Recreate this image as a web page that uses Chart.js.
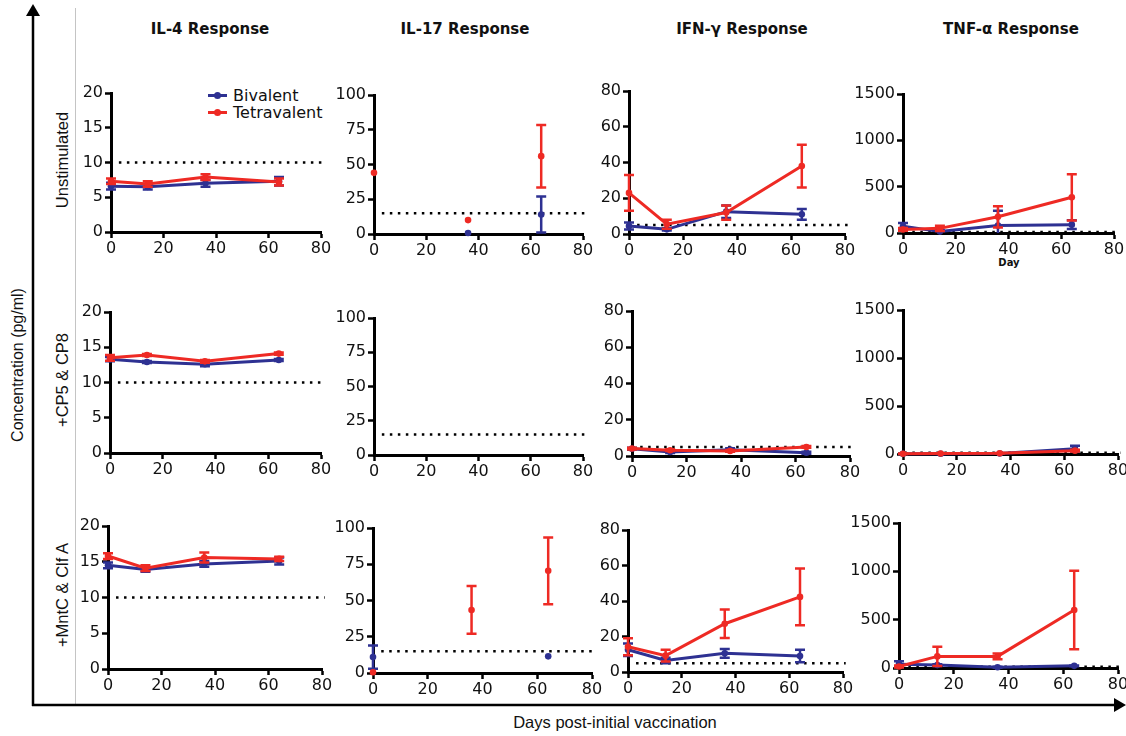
<!DOCTYPE html>
<html><head><meta charset="utf-8">
<script src="https://cdn.jsdelivr.net/npm/chart.js@4.4.1/dist/chart.umd.min.js"></script>
<style>
html,body{margin:0;padding:0;background:#fff;}
#fig{position:relative;width:1126px;height:736px;overflow:hidden;font-family:"Liberation Sans",Arial,sans-serif;color:#111;}
canvas.panel{position:absolute;}
.title{position:absolute;font-family:"DejaVu Sans",sans-serif;font-weight:bold;font-size:15px;transform:translate(-50%,-50%);white-space:nowrap;}
.rowlab{position:absolute;font-size:16.5px;transform:translate(-50%,-50%) rotate(-90deg);white-space:nowrap;}
.ylab{position:absolute;font-size:16px;transform:translate(-50%,-50%) rotate(-90deg);white-space:nowrap;}
.xlab{position:absolute;font-size:16.5px;transform:translate(-50%,-50%);white-space:nowrap;}
.day{position:absolute;font-family:"DejaVu Sans",sans-serif;font-weight:bold;font-size:10px;transform:translate(-50%,-50%);}
.leg{position:absolute;font-family:"DejaVu Sans",sans-serif;font-size:16px;white-space:nowrap;display:flex;align-items:center;}
.leg .sw{position:relative;width:19px;height:3px;margin-right:6px;}
.leg .sw i{position:absolute;left:6px;top:-2px;width:7px;height:7px;border-radius:50%;}
</style></head>
<body>
<div id="fig">
<svg width="1126" height="736" style="position:absolute;left:0;top:0">
 <line x1="75.5" y1="8" x2="75.5" y2="705" stroke="#c4c4c4" stroke-width="1"/>
 <line x1="33" y1="14" x2="33" y2="706" stroke="#000" stroke-width="2.5"/>
 <polygon points="33,4 26,16 40,16" fill="#000"/>
 <line x1="32" y1="705" x2="1116" y2="705" stroke="#000" stroke-width="2.5"/>
 <polygon points="1126,705 1114,698 1114,712" fill="#000"/>
</svg>
</div>
<script>
// ---------- data ----------
const days = [0, 14, 36, 64];
const xTicks = [0, 20, 40, 60, 80];
const cytokines = ['IL-4 Response', 'IL-17 Response', 'IFN-γ Response', 'TNF-α Response'];
const stimuli = ['Unstimulated', '+CP5 & CP8', '+MntC & Clf A'];
const seriesNames = ['Bivalent', 'Tetravalent'];
const yMax = [20, 100, 80, 1500];
const yStep = [5, 25, 20, 500];
const thresholds = [10, 15, 5, 12];

// Unstimulated
const il4UnstimBiv = [6.6, 6.5, 7.0, 7.3];
const il4UnstimBivErr = [0.5, 0.4, 0.5, 0.6];
const il4UnstimTet = [7.3, 6.9, 7.9, 7.2];
const il4UnstimTetErr = [0.4, 0.4, 0.4, 0.5];
const il17UnstimBiv = [null, null, 0.7, 14];
const il17UnstimBivErr = [null, null, 0, 13];
const il17UnstimTet = [44, null, 10, 56];
const il17UnstimTetErr = [0, null, 0, 22.5];
const ifnUnstimBiv = [4.5, 2.6, 12.5, 11];
const ifnUnstimBivErr = [2, 0.6, 3.5, 3];
const ifnUnstimTet = [23, 5.5, 12, 38];
const ifnUnstimTetErr = [10, 2.5, 4, 12];
const tnfUnstimBiv = [72, 15, 80, 90];
const tnfUnstimBivErr = [36, 15, 160, 47];
const tnfUnstimTet = [38, 50, 175, 385];
const tnfUnstimTetErr = [15, 28, 115, 250];

// +CP5 & CP8
const il4CpBiv = [13.3, 12.9, 12.6, 13.2];
const il4CpBivErr = [0.3, 0.15, 0.3, 0.15];
const il4CpTet = [13.5, 13.9, 13.0, 14.1];
const il4CpTetErr = [0.4, 0.15, 0.2, 0.15];
const il17CpBiv = [null, null, null, null];
const il17CpBivErr = [null, null, null, null];
const il17CpTet = [null, null, null, null];
const il17CpTetErr = [null, null, null, null];
const ifnCpBiv = [4.0, 2.2, 3.5, 1.8];
const ifnCpBivErr = [0.5, 0.5, 0.8, 0.5];
const ifnCpTet = [4.1, 3.2, 2.8, 5.0];
const ifnCpTetErr = [0.5, 0.5, 0.5, 0.5];
const tnfCpBiv = [3, 3, 5, 55];
const tnfCpBivErr = [2, 2, 3, 30];
const tnfCpTet = [3, 5, 8, 35];
const tnfCpTetErr = [2, 2, 3, 10];

// +MntC & Clf A
const il4MntBiv = [14.5, 13.9, 14.7, 15.1];
const il4MntBivErr = [0.4, 0.3, 0.4, 0.5];
const il4MntTet = [15.8, 14.1, 15.6, 15.4];
const il4MntTetErr = [0.4, 0.4, 0.7, 0.3];
const il17MntBiv = [11, null, null, 11.5];
const il17MntBivErr = [8, null, null, 0];
const il17MntTet = [0.5, null, 43.5, 70.5];
const il17MntTetErr = [0, null, 16.5, 23];
const ifnMntBiv = [12.5, 6.5, 10.5, 9];
const ifnMntBivErr = [3.5, 1.5, 2.5, 3.5];
const ifnMntTet = [14.2, 9.2, 27.2, 42.3];
const ifnMntTetErr = [4.8, 3.3, 8, 16];
const tnfMntBiv = [40, 30, 8, 22];
const tnfMntBivErr = [30, 10, 5, 5];
const tnfMntTet = [15, 120, 120, 600];
const tnfMntTetErr = [10, 100, 30, 405];

const panelSeries = [
  [[il4UnstimBiv, il4UnstimBivErr, il4UnstimTet, il4UnstimTetErr],
   [il17UnstimBiv, il17UnstimBivErr, il17UnstimTet, il17UnstimTetErr],
   [ifnUnstimBiv, ifnUnstimBivErr, ifnUnstimTet, ifnUnstimTetErr],
   [tnfUnstimBiv, tnfUnstimBivErr, tnfUnstimTet, tnfUnstimTetErr]],
  [[il4CpBiv, il4CpBivErr, il4CpTet, il4CpTetErr],
   [il17CpBiv, il17CpBivErr, il17CpTet, il17CpTetErr],
   [ifnCpBiv, ifnCpBivErr, ifnCpTet, ifnCpTetErr],
   [tnfCpBiv, tnfCpBivErr, tnfCpTet, tnfCpTetErr]],
  [[il4MntBiv, il4MntBivErr, il4MntTet, il4MntTetErr],
   [il17MntBiv, il17MntBivErr, il17MntTet, il17MntTetErr],
   [ifnMntBiv, ifnMntBivErr, ifnMntTet, ifnMntTetErr],
   [tnfMntBiv, tnfMntBivErr, tnfMntTet, tnfMntTetErr]]
];

// ---------- layout & style ----------
const BLUE = '#2E3192', RED = '#EE2A24';
const YW = 56, XH = 26, PT = 14, PR = 16;
// [plotLeft, plotWidth, plotTop, plotHeight]
const boxes = [
  [[111, 210, 93, 139], [374, 209, 95, 139], [629, 216, 91, 143], [903, 211, 94, 139]],
  [[110, 211, 312, 141], [374, 209, 318, 137], [632, 218, 311, 145], [903, 215, 310, 144]],
  [[108, 214, 526, 143], [373, 219, 528, 145], [628, 215, 530, 142], [899, 219, 523, 145]]
];
const titleX = [210, 465, 742, 1011];
const fig = document.getElementById('fig');

function addDiv(cls, text, x, y) {
  const d = document.createElement('div');
  d.className = cls; d.textContent = text;
  d.style.left = x + 'px'; d.style.top = y + 'px';
  fig.appendChild(d); return d;
}
cytokines.forEach((t, c) => addDiv('title', t, titleX[c], 29));
stimuli.forEach((s, r) => {
  const b = boxes[r][0];
  addDiv('rowlab', s, 62, b[2] + b[3] / 2 - 3);
});
addDiv('ylab', 'Concentration (pg/ml)', 18, 365);
addDiv('xlab', 'Days post-initial vaccination', 615, 722);
addDiv('day', 'Day', 1009, 262);

// legend
[BLUE, RED].forEach((col, i) => {
  const d = document.createElement('div');
  d.className = 'leg';
  d.style.left = '208px'; d.style.top = (86 + i * 17) + 'px';
  d.innerHTML = '<span class="sw" style="background:' + col + '"><i style="background:' + col + '"></i></span>';
  d.appendChild(document.createTextNode(seriesNames[i]));
  fig.appendChild(d);
});

const errorBars = {
  id: 'errorBars',
  afterDatasetDraw(chart, args) {
    const ds = chart.data.datasets[args.index];
    if (!ds.errors) return;
    const ctx = chart.ctx, xs = chart.scales.x, ys = chart.scales.y;
    ctx.save();
    ctx.strokeStyle = ds.borderColor; ctx.lineWidth = 2.5;
    ds.data.forEach((p, i) => {
      const e = ds.errors[i];
      if (p.y == null || !e) return;
      const x = xs.getPixelForValue(p.x);
      const loV = p.y - e;
      const yl = ys.getPixelForValue(Math.max(loV, ys.min));
      const yh = ys.getPixelForValue(p.y + e);
      ctx.beginPath();
      ctx.moveTo(x, yl); ctx.lineTo(x, yh);
      ctx.moveTo(x - 5, yh); ctx.lineTo(x + 5, yh);
      if (loV > ys.min) { ctx.moveTo(x - 5, yl); ctx.lineTo(x + 5, yl); }
      ctx.stroke();
    });
    ctx.restore();
  }
};

function pts(vals) { return days.map((d, i) => ({ x: d, y: vals[i] })); }

const tickFont = { family: 'DejaVu Sans', size: 16 };
for (let r = 0; r < 3; r++) {
  for (let c = 0; c < 4; c++) {
    const [L, W, T, H] = boxes[r][c];
    const cv = document.createElement('canvas');
    cv.className = 'panel';
    cv.width = YW + W + PR; cv.height = PT + H + XH;
    cv.style.left = (L - YW) + 'px'; cv.style.top = (T - PT) + 'px';
    fig.appendChild(cv);
    const [bv, be, tv, te] = panelSeries[r][c];
    const line = c !== 1;
    const mk = (vals, errs, col, name) => ({
      label: name, data: pts(vals), errors: errs,
      borderColor: col, backgroundColor: col, pointBackgroundColor: col,
      borderWidth: 3, pointRadius: 3.3, pointBorderWidth: 0,
      showLine: line, clip: false
    });
    const thrStart = c === 3 ? 0.5 : 3;
    new Chart(cv, {
      type: 'scatter',
      data: {
        datasets: [
          mk(tv, te, RED, seriesNames[1]),
          mk(bv, be, BLUE, seriesNames[0]),
          { label: 'threshold', data: [{ x: thrStart, y: thresholds[c] }, { x: 81, y: thresholds[c] }],
            borderColor: '#000', borderWidth: 2.5, borderDash: [2.5, 5.5], pointRadius: 0,
            showLine: true, clip: false }
        ]
      },
      options: {
        responsive: false, animation: false, events: [],
        layout: { padding: { top: PT, right: PR, left: 0, bottom: 0 } },
        plugins: { legend: { display: false }, tooltip: { enabled: false } },
        scales: {
          x: {
            type: 'linear', min: 0, max: 80,
            afterBuildTicks: s => { s.ticks = xTicks.map(v => ({ value: v })); },
            ticks: { font: tickFont, color: '#111', padding: 1, maxRotation: 0, callback: v => String(v) },
            grid: { drawOnChartArea: false, tickLength: 6, tickWidth: 2.5, tickColor: '#000' },
            border: { color: '#000', width: 3 },
            afterFit: s => { s.height = XH; }
          },
          y: {
            type: 'linear', min: 0, max: yMax[c],
            ticks: { stepSize: yStep[c], font: tickFont, color: '#111', padding: 2, callback: v => String(v) },
            grid: { drawOnChartArea: false, tickLength: 6, tickWidth: 2.5, tickColor: '#000' },
            border: { color: '#000', width: 3 },
            afterFit: s => { s.width = YW; }
          }
        }
      },
      plugins: [errorBars]
    });
  }
}
</script>
</body></html>
